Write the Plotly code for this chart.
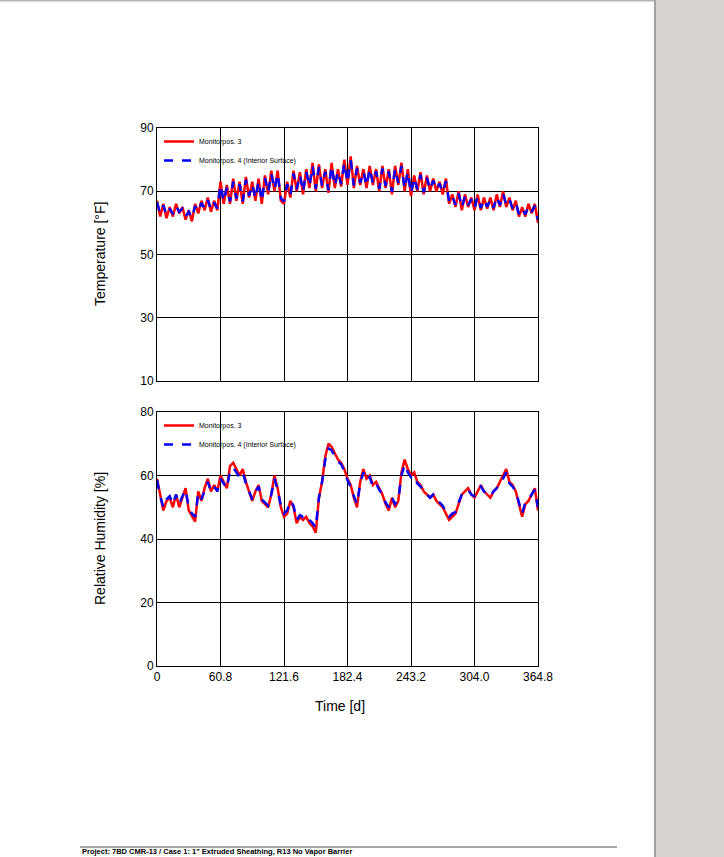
import plotly.graph_objects as go

STEP = 3.04
days = [round(i * STEP, 2) for i in range(121)]

temp_pos3 = [67, 62, 66, 61.5, 65, 62, 66, 63, 65, 61, 64, 60.5, 66, 63, 67, 64, 68, 63.5, 67, 64,
             73, 66, 72, 66, 74, 67, 73, 66, 74.5, 68, 73, 67, 74, 66, 75, 69, 76.5, 70, 76.5, 67,
             66, 73, 68, 76.5, 70, 76, 69, 77, 71, 79, 70, 78.5, 71, 77, 69.5, 79, 71, 77, 71.5, 80,
             72, 81, 71, 78, 72, 77, 71, 78, 72, 77, 70, 78, 71, 77, 69, 78, 72, 79, 70, 77,
             68.5, 75, 70, 76, 69, 75, 70, 74, 70, 73, 69, 74, 66, 69, 65, 70, 64, 69, 65, 68,
             64, 69, 64, 68, 64.5, 68, 64, 69, 65, 70, 65, 68, 64, 67, 62, 65, 62, 66, 63, 66, 60]
temp_pos4 = [66.5, 63, 65.5, 62.5, 64.5, 62.8, 65.3, 63.5, 64.5, 62, 63.5, 61.5, 65.3, 63.6, 66.3, 64.5, 67.2, 64.2, 66.4, 64.6,
             72, 66.8, 71.2, 66.8, 73, 67.7, 72.2, 66.8, 73.6, 68.6, 72.2, 67.7, 73.2, 66.9, 74.2, 69.6, 75.6, 70.6, 75.6, 67.8,
             66.8, 72.2, 68.8, 75.6, 70.6, 75.2, 69.8, 76.2, 71.6, 78, 70.8, 77.6, 71.7, 76.2, 70.3, 78, 71.7, 76.3, 72.2, 79,
             72.7, 79.8, 71.8, 77.2, 72.6, 76.3, 71.7, 77.2, 72.6, 76.3, 70.8, 77.2, 71.7, 76.3, 69.8, 77.2, 72.6, 78, 70.8, 76.2,
             69.3, 74.3, 70.6, 75.2, 69.7, 74.3, 70.5, 73.4, 70.5, 72.4, 69.6, 73.2, 66.8, 68.5, 65.7, 69.3, 64.8, 68.4, 65.6, 67.5,
             64.7, 68.3, 64.7, 67.4, 65.1, 67.4, 64.7, 68.3, 65.6, 69.2, 65.7, 67.4, 64.6, 66.4, 62.8, 64.5, 62.7, 65.3, 63.5, 65.4, 61]

rh_pos3 = [59, 54, 49, 52, 53, 50, 54, 50, 53, 56, 49, 47, 45.5, 55, 52, 56, 59, 55, 57, 55,
           60, 58, 56, 63, 64, 62, 60, 62, 58, 55, 52, 55, 57, 52, 51, 50, 54, 60, 56, 50,
           47, 48, 52, 50, 45, 47, 46, 47, 45, 44, 42, 53, 58, 66, 70, 69, 67, 65, 64, 62,
           59, 57, 53, 50, 58, 62, 59, 60, 57, 58, 56, 54, 51, 49, 53, 50, 52, 61, 65, 62,
           60, 61, 58, 57, 55, 54, 53, 54, 52, 51, 50, 48, 46, 47, 48, 51, 54, 55, 56, 54,
           53, 55, 57, 55, 54, 53, 55, 56, 58, 60, 62, 58, 57, 55, 51, 47, 51, 52, 54, 56, 49]
rh_pos4 = [58.5, 53.5, 50, 52.5, 53.5, 51, 54, 51, 53.5, 55.5, 50, 48, 47, 54.5, 52.5, 55.5, 58, 55, 56.5, 55,
           59, 57.5, 56, 61.5, 62.5, 61, 59.5, 61, 57.5, 55, 52.5, 55, 56.5, 52.5, 51.5, 50.5, 54, 59, 55.5, 50.5,
           48, 49, 52, 50.5, 46, 47.5, 47, 47.5, 46, 45, 43.5, 53, 58, 65, 68.5, 68, 66, 64.5, 63.5, 61.5,
           58.5, 56.5, 53.5, 51, 57.5, 61, 58.5, 59.5, 56.5, 57.5, 55.5, 54, 51.5, 50, 53, 51, 52.5, 60, 63.5, 61,
           59.5, 60, 57.5, 56.5, 55, 54, 53, 54, 52, 51.5, 50.5, 48.5, 47, 48, 48.5, 51.5, 54, 55, 55.5, 54,
           53.5, 55, 56.5, 55, 54, 53.5, 55, 56, 57.5, 59, 61, 57.5, 56.5, 55, 51.5, 48, 51.5, 52.5, 54, 55.5, 50]

x_ticks = [0, 60.8, 121.6, 182.4, 243.2, 304.0, 364.8]
x_tick_text = ["0", "60.8", "121.6", "182.4", "243.2", "304.0", "364.8"]
temp_ticks = [10, 30, 50, 70, 90]
rh_ticks = [0, 20, 40, 60, 80]
name3 = "Monitorpos. 3"
name4 = "Monitorpos. 4 (Interior Surface)"

W, H = 724, 857
L, R, T, B = 157, 538, 128, 666
pw, ph = R - L, B - T

def px_x(px):
    return (px - L) / pw

def px_y(py):
    return (B - py) / ph

fig = go.Figure()
fig.add_trace(go.Scatter(x=days, y=temp_pos3, name=name3, mode="lines",
                         line=dict(color="#ff0000", width=2.5), xaxis="x", yaxis="y", legend="legend"))
fig.add_trace(go.Scatter(x=days, y=temp_pos4, name=name4, mode="lines",
                         line=dict(color="#0000ff", width=2.5, dash="dash"), xaxis="x", yaxis="y", legend="legend"))
fig.add_trace(go.Scatter(x=days, y=rh_pos3, name=name3, mode="lines",
                         line=dict(color="#ff0000", width=2.5), xaxis="x2", yaxis="y2", legend="legend2"))
fig.add_trace(go.Scatter(x=days, y=rh_pos4, name=name4, mode="lines",
                         line=dict(color="#0000ff", width=2.5, dash="dash"), xaxis="x2", yaxis="y2", legend="legend2"))

axis_common = dict(showline=True, linecolor="black", linewidth=1, mirror=True,
                   showgrid=True, gridcolor="black", gridwidth=1, zeroline=False,
                   ticks="", tickfont=dict(family="Liberation Sans, Arial", size=12, color="black"))

legend_common = dict(font=dict(family="Liberation Sans, Arial", size=7, color="black"),
                     bgcolor="rgba(0,0,0,0)", borderwidth=0, xanchor="left", yanchor="top",
                     itemwidth=30, tracegroupgap=0)

title_font = dict(family="Liberation Sans, Arial", size=14, color="black")

fig.update_layout(
    width=W, height=H,
    margin=dict(l=L, r=W - R, t=T, b=H - B, autoexpand=False),
    paper_bgcolor="white", plot_bgcolor="white",
    showlegend=True,
    xaxis=dict(domain=[0, 1], range=[0, 364.8], anchor="y", tickvals=x_ticks,
               showticklabels=False, **axis_common),
    yaxis=dict(domain=[px_y(381), 1], range=[10, 90], anchor="x", tickvals=temp_ticks, **axis_common),
    xaxis2=dict(domain=[0, 1], range=[0, 364.8], anchor="y2", tickvals=x_ticks,
                ticktext=x_tick_text, **axis_common),
    yaxis2=dict(domain=[0, px_y(412)], range=[0, 80], anchor="x2", tickvals=rh_ticks, **axis_common),
    legend=dict(x=px_x(159), y=px_y(127), **legend_common),
    legend2=dict(x=px_x(159), y=px_y(411), **legend_common),
    shapes=[
        dict(type="rect", xref="paper", yref="paper", x0=px_x(655), x1=px_x(724), y0=px_y(857), y1=px_y(0),
             fillcolor="#d6d3ce", line=dict(width=0), layer="below"),
        dict(type="line", xref="paper", yref="paper", x0=px_x(655), x1=px_x(655), y0=px_y(857), y1=px_y(0),
             line=dict(color="#a0a0a0", width=2)),
        dict(type="line", xref="paper", yref="paper", x0=px_x(0), x1=px_x(655), y0=px_y(0.5), y1=px_y(0.5),
             line=dict(color="#b4b4b4", width=2)),
        dict(type="line", xref="paper", yref="paper", x0=px_x(80), x1=px_x(617), y0=px_y(847), y1=px_y(847),
             line=dict(color="#505050", width=1)),
    ],
    annotations=[
        dict(text="Temperature [°F]", xref="paper", yref="paper", x=px_x(100), y=px_y(254),
             xanchor="center", yanchor="middle", textangle=-90, showarrow=False, font=title_font),
        dict(text="Relative Humidity [%]", xref="paper", yref="paper", x=px_x(100), y=px_y(539),
             xanchor="center", yanchor="middle", textangle=-90, showarrow=False, font=title_font),
        dict(text="Time [d]", xref="paper", yref="paper", x=px_x(340), y=px_y(706),
             xanchor="center", yanchor="middle", showarrow=False, font=title_font),
        dict(text="<b>Project: 7BD CMR-13 / Case 1: 1\" Extruded Sheathing, R13 No Vapor Barrier</b>",
             xref="paper", yref="paper", x=px_x(80), y=px_y(851), xanchor="left", yanchor="middle",
             showarrow=False, font=dict(family="Liberation Sans, Arial", size=7.5, color="black")),
    ],
)

fig.write_html("out.html", config={"displayModeBar": False},
               post_script="document.body.style.margin='0';document.body.style.overflow='hidden';")
